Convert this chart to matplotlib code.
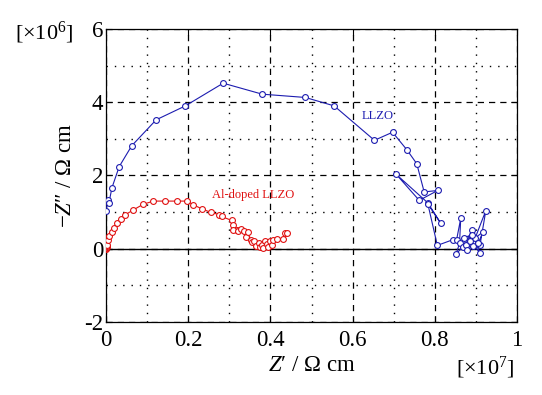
import matplotlib
matplotlib.use('Agg')
import matplotlib.pyplot as plt
from matplotlib.ticker import MultipleLocator

plt.rcParams['font.family'] = ['Liberation Serif', 'DejaVu Serif']
plt.rcParams['mathtext.fontset'] = 'custom'
plt.rcParams['mathtext.rm'] = 'Liberation Serif'
plt.rcParams['mathtext.it'] = 'Liberation Serif:italic'

# LLZO (Z' in 1e7 ohm cm, -Z'' in 1e6 ohm cm)
llzo_x = [0.000, 0.005, 0.007, 0.0146, 0.032, 0.0625, 0.122, 0.193, 0.285, 0.380,
          0.485, 0.555, 0.653, 0.697, 0.732, 0.756, 0.774, 0.807, 0.762, 0.706,
          0.783, 0.814, 0.783, 0.806, 0.845, 0.853, 0.863, 0.860, 0.852, 0.868,
          0.882, 0.890, 0.875, 0.894, 0.910, 0.924, 0.898, 0.917, 0.906, 0.878,
          0.870, 0.891, 0.910, 0.885]
llzo_y = [1.03, 1.34, 1.25, 1.67, 2.24, 2.81, 3.52, 3.90, 4.52, 4.22,
          4.13, 3.90, 2.96, 3.18, 2.70, 2.32, 1.55, 1.59, 1.32, 2.03,
          1.25, 0.70, 1.22, 0.09, 0.25, 0.25, 0.83, 0.15, -0.14, 0.05,
          0.15, 0.52, 0.10, 0.06, 0.11, 1.04, 0.29, 0.46, 0.16, -0.03,
          0.30, 0.38, -0.12, 0.22]

# Al-doped LLZO
al_x = [0.000, 0.0005, 0.001, 0.0015, 0.002, 0.003, 0.0057, 0.008, 0.014, 0.020,
        0.0275, 0.036, 0.046, 0.065, 0.090, 0.115, 0.144, 0.172, 0.198, 0.212,
        0.233, 0.255, 0.276, 0.281, 0.306, 0.310, 0.318, 0.308, 0.322, 0.328,
        0.336, 0.341, 0.345, 0.352, 0.356, 0.360, 0.366, 0.371, 0.375, 0.379,
        0.383, 0.387, 0.391, 0.395, 0.399, 0.403, 0.407, 0.415, 0.430, 0.436,
        0.441]
al_y = [0.00, 0.01, 0.03, 0.05, 0.07, 0.11, 0.23, 0.34, 0.45, 0.57,
        0.70, 0.81, 0.92, 1.05, 1.21, 1.30, 1.30, 1.30, 1.30, 1.20,
        1.09, 0.99, 0.93, 0.88, 0.77, 0.66, 0.52, 0.52, 0.47, 0.55,
        0.49, 0.32, 0.45, 0.25, 0.18, 0.20, 0.08, 0.15, 0.05, 0.11,
        0.02, 0.20, 0.14, 0.05, 0.20, 0.10, 0.25, 0.27, 0.27, 0.43,
        0.43]

x_ticks = [0, 0.2, 0.4, 0.6, 0.8, 1.0]
x_ticklabels = ['0', '0.2', '0.4', '0.6', '0.8', '1']
y_ticks = [-2, 0, 2, 4, 6]
y_ticklabels = ['-2', '0', '2', '4', '6']

blue = '#1c1cb0'
red = '#e01010'

fig = plt.figure(figsize=(5.42, 3.95), dpi=100)
ax = fig.add_axes([0.1956, 0.185, 0.7584, 0.7416])

ax.axhline(0, color='black', lw=1.0, zorder=1)
ax.plot(llzo_x, llzo_y, '-o', color=blue, lw=0.8, ms=4.2, mfc='white',
        mec=blue, mew=0.8, zorder=3)
ax.plot(al_x, al_y, '-o', color=red, lw=0.8, ms=4.2, mfc='white',
        mec=red, mew=0.8, zorder=3)

ax.text(0.66, 3.63, 'LLZO', color=blue, fontsize=9, ha='center', va='center')
ax.text(0.359, 1.46, 'Al-doped LLZO', color=red, fontsize=9, ha='center', va='center')

ax.set_xlim(0, 1)
ax.set_ylim(-2, 6)
ax.xaxis.set_minor_locator(MultipleLocator(0.1))
ax.yaxis.set_minor_locator(MultipleLocator(1))
ax.set_xticks(x_ticks)
ax.set_xticklabels(x_ticklabels)
ax.set_yticks(y_ticks)
ax.set_yticklabels(y_ticklabels)

ax.grid(which='major', color='black', linestyle=(0, (5, 4)), lw=0.9)
ax.grid(which='minor', color='black', linestyle=(0, (1, 5)), lw=1.0)
ax.set_axisbelow(True)

ax.tick_params(which='major', direction='in', length=4, width=0.8,
               top=True, right=True, labelsize=16.5)
ax.tick_params(axis='x', pad=6)
ax.tick_params(axis='y', pad=2)
ax.tick_params(which='minor', length=0)
for s in ax.spines.values():
    s.set_linewidth(0.9)

ax.set_xlabel("$\\mathit{Z}$′ / Ω cm", fontsize=16.5, labelpad=3)
ax.set_ylabel("−$\\mathit{Z}$″ / Ω cm", fontsize=16.5, labelpad=6)

fig.text(0.895, 0.068, '[×10$^{7}$]', fontsize=16, ha='center', va='center')
fig.text(0.081, 0.916, '[×10$^{6}$]', fontsize=16, ha='center', va='center')

fig.savefig('out.png', dpi=100)
